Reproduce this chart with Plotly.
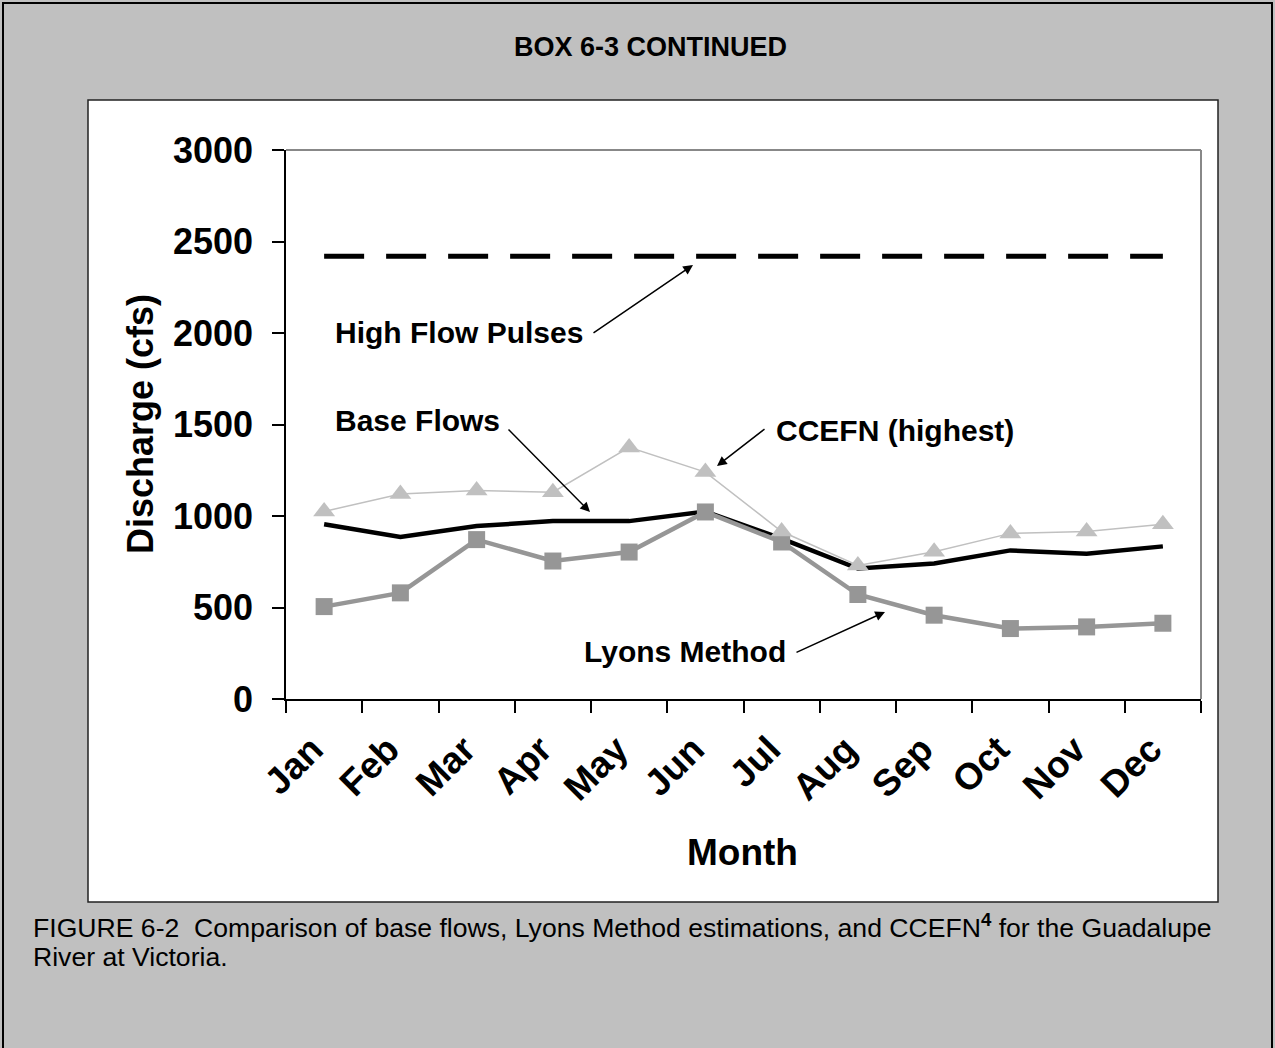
import plotly.graph_objects as go

months = ["Jan", "Feb", "Mar", "Apr", "May", "Jun", "Jul", "Aug", "Sep", "Oct", "Nov", "Dec"]
base_flows = [955, 885, 945, 972, 972, 1025, 876, 713, 740, 812, 794, 834]
lyons_method = [505, 580, 871, 754, 803, 1022, 858, 571, 458, 385, 394, 414]
ccefn_highest = [1025, 1120, 1140, 1130, 1375, 1240, 915, 730, 805, 905, 915, 955]
high_flow_pulses = [2420] * 12
y_ticks = [0, 500, 1000, 1500, 2000, 2500, 3000]

W, H = 1275, 1048
L, R, T, B = 286, 1201, 150, 699
FONT = "Arial, 'Liberation Sans', sans-serif"


def px(x):
    return (x - L) / (R - L)


def py(y):
    return (B - y) / (B - T)


fig = go.Figure()
fig.add_trace(go.Scatter(x=months, y=high_flow_pulses, mode="lines",
                         line=dict(color="black", width=5, dash="40px,22px"),
                         name="High Flow Pulses"))
fig.add_trace(go.Scatter(x=months, y=base_flows, mode="lines",
                         line=dict(color="black", width=4.5), name="Base Flows"))
fig.add_trace(go.Scatter(x=months, y=lyons_method, mode="lines+markers",
                         line=dict(color="#969696", width=4.5),
                         marker=dict(symbol="square", size=17, color="#969696"),
                         name="Lyons Method"))
fig.add_trace(go.Scatter(x=months, y=ccefn_highest, mode="lines+markers",
                         line=dict(color="#C0C0C0", width=1.5),
                         marker=dict(symbol="triangle-up", size=19, color="#C0C0C0"),
                         name="CCEFN (highest)"))

shapes = [
    # outer page border
    dict(type="rect", xref="paper", yref="paper", x0=px(3), x1=px(1272), y0=py(1060), y1=py(3),
         line=dict(color="black", width=2), fillcolor="rgba(0,0,0,0)", layer="below"),
    # white chart box
    dict(type="rect", xref="paper", yref="paper", x0=px(88), x1=px(1218), y0=py(902), y1=py(100),
         line=dict(color="#222", width=1.5), fillcolor="white", layer="below"),
    # plot area top/right border (gray)
    dict(type="line", xref="paper", yref="paper", x0=0, x1=1, y0=1, y1=1,
         line=dict(color="#888", width=2), layer="between"),
    dict(type="line", xref="paper", yref="paper", x0=1, x1=1, y0=0, y1=1,
         line=dict(color="#888", width=2), layer="between"),
]

ann = []
ann.append(dict(text="<b>BOX 6-3 CONTINUED</b>", xref="paper", yref="paper", x=px(650), y=py(47),
                showarrow=False, font=dict(family=FONT, size=27, color="black"),
                xanchor="center", yanchor="middle"))
ann.append(dict(text="<b>Discharge (cfs)</b>", xref="paper", yref="paper", x=px(140), y=py(424),
                showarrow=False, textangle=-90, font=dict(family=FONT, size=36, color="black"),
                xanchor="center", yanchor="middle"))
ann.append(dict(text="<b>Month</b>", xref="paper", yref="paper", x=px(742), y=py(852),
                showarrow=False, font=dict(family=FONT, size=37, color="black"),
                xanchor="center", yanchor="middle"))
caption_lines = [
    ("FIGURE 6-2  Comparison of base flows, Lyons Method estimations, and CCEFN<sup><b>4</b></sup> for the Guadalupe", 926),
    ("River at Victoria.", 957),
]
for t, y in caption_lines:
    ann.append(dict(text=t, xref="paper", yref="paper", x=px(31), y=py(y), showarrow=False,
                    align="left", font=dict(family=FONT, size=26.6, color="black"),
                    xanchor="left", yanchor="middle"))

labels = [("High Flow Pulses", 459, 332), ("Base Flows", 417, 420),
          ("CCEFN (highest)", 895, 430), ("Lyons Method", 685, 651)]
for t, x, y in labels:
    ann.append(dict(text="<b>%s</b>" % t, xref="paper", yref="paper", x=px(x), y=py(y),
                    showarrow=False, font=dict(family=FONT, size=30, color="black"),
                    xanchor="center", yanchor="middle"))

arrows = [((592, 334), (693, 265)), ((507, 428), (590, 512)),
          ((766, 428), (717, 466)), ((795, 653), (885, 612))]
for (tx, ty), (hx, hy) in arrows:
    ann.append(dict(text=" ", xref="paper", yref="paper", x=px(hx), y=py(hy),
                    ax=tx - hx, ay=ty - hy, showarrow=True, arrowhead=2, arrowsize=1.3,
                    arrowwidth=1.5, arrowcolor="black", font=dict(size=1)))

fig.update_layout(
    width=W, height=H,
    margin=dict(l=L, r=W - R, t=T, b=H - B, pad=0),
    paper_bgcolor="#C0C0C0", plot_bgcolor="white",
    showlegend=False,
    shapes=shapes, annotations=ann,
    xaxis=dict(type="category", tickson="boundaries", ticks="outside", ticklen=12,
               tickcolor="black", tickwidth=1.5, showline=True, linecolor="black", linewidth=1.5,
               showgrid=False, tickangle=-45, ticklabelstandoff=12, ticklabelshift=-12,
               tickfont=dict(family=FONT, size=37, color="black", weight="bold"),
               range=[-0.5, 11.5]),
    yaxis=dict(range=[0, 3000], tickvals=y_ticks, ticks="outside", ticklen=12,
               tickcolor="black", tickwidth=1.5, showline=True, linecolor="black", linewidth=1.5,
               showgrid=False, zeroline=False, ticklabelstandoff=12,
               tickfont=dict(family=FONT, size=36, color="black", weight="bold")),
)

fig.write_html("out.html", config={"displayModeBar": False},
               post_script="document.body.style.margin='0px';document.body.style.background='#C0C0C0';")
